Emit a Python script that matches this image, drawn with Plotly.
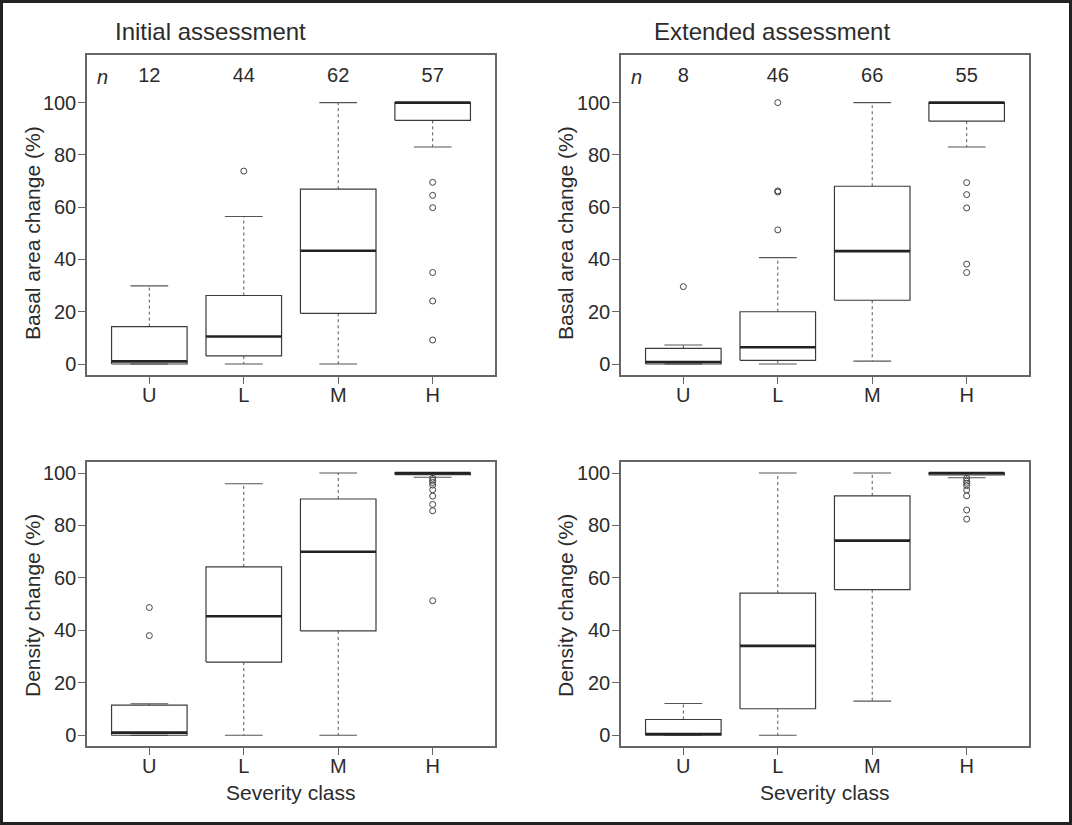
import plotly.graph_objects as go

categories = ["U", "L", "M", "H"]
positions = [1, 2, 3, 4]
n_initial = [12, 44, 62, 57]
n_extended = [8, 46, 66, 55]

# Basal area change (%), initial assessment
ba_init_lower = [0.0, 0.0, 0.0, 83.0]
ba_init_q1 = [0.0, 3.1, 19.4, 93.2]
ba_init_median = [1.0, 10.5, 43.3, 100.0]
ba_init_q3 = [14.3, 26.2, 66.9, 100.0]
ba_init_upper = [29.9, 56.4, 100.0, 100.0]
ba_init_outliers = [[], [73.8], [], [69.5, 64.5, 59.8, 35.0, 24.1, 9.2]]

# Basal area change (%), extended assessment
ba_ext_lower = [0.0, 0.0, 1.1, 83.0]
ba_ext_q1 = [0.0, 1.4, 24.4, 92.9]
ba_ext_median = [0.8, 6.4, 43.2, 100.0]
ba_ext_q3 = [6.0, 20.0, 68.0, 100.0]
ba_ext_upper = [7.3, 40.7, 100.0, 100.0]
ba_ext_outliers = [[29.6], [100.0, 66.2, 65.8, 51.3], [], [69.4, 64.8, 59.7, 38.2, 35.0]]

# Density change (%), initial assessment
den_init_lower = [0.0, 0.0, 0.0, 98.4]
den_init_q1 = [0.0, 27.9, 39.8, 99.4]
den_init_median = [1.0, 45.4, 70.0, 100.0]
den_init_q3 = [11.5, 64.2, 90.1, 100.0]
den_init_upper = [12.0, 95.9, 100.0, 100.0]
den_init_outliers = [[48.7, 38.0], [], [], [98.0, 97.2, 96.4, 95.4, 93.6, 91.2, 88.0, 85.6, 51.3]]

# Density change (%), extended assessment
den_ext_lower = [0.0, 0.0, 13.0, 98.2]
den_ext_q1 = [0.0, 10.1, 55.5, 99.3]
den_ext_median = [0.5, 34.1, 74.2, 100.0]
den_ext_q3 = [6.0, 54.2, 91.3, 100.0]
den_ext_upper = [12.1, 100.0, 100.0, 100.0]
den_ext_outliers = [[], [], [], [98.0, 96.9, 96.1, 95.2, 93.5, 91.3, 85.9, 82.4]]

W, H = 1072, 825
FONT = "Liberation Sans, Arial, sans-serif"
TXT = "#2b2b2b"
BOX_HALF = 0.4
CAP_HALF = 0.2

fig = go.Figure()


def add_panel(k, lower, q1, med, q3, upper, outliers, n=None, ytop=None):
    xa = "x" if k == 1 else f"x{k}"
    ya = "y" if k == 1 else f"y{k}"
    wx, wy, cx, cy, bx, by, mx, my, ox, oy = [], [], [], [], [], [], [], [], [], []
    for p, lo, a, m, b, hi, outs in zip(positions, lower, q1, med, q3, upper, outliers):
        wx += [p, p, None, p, p, None]
        wy += [b, hi, None, a, lo, None]
        cx += [p - CAP_HALF, p + CAP_HALF, None, p - CAP_HALF, p + CAP_HALF, None]
        cy += [hi, hi, None, lo, lo, None]
        bx += [p - BOX_HALF, p + BOX_HALF, p + BOX_HALF, p - BOX_HALF, p - BOX_HALF, None]
        by += [a, a, b, b, a, None]
        mx += [p - BOX_HALF, p + BOX_HALF, None]
        my += [m, m, None]
        ox += [p] * len(outs)
        oy += outs
    common = dict(xaxis=xa, yaxis=ya, hoverinfo="skip", showlegend=False)
    fig.add_trace(go.Scatter(x=wx, y=wy, mode="lines",
                             line=dict(color="#555555", width=1, dash="dot"), **common))
    fig.add_trace(go.Scatter(x=cx, y=cy, mode="lines",
                             line=dict(color="#555555", width=1.1), **common))
    fig.add_trace(go.Scatter(x=bx, y=by, mode="lines",
                             line=dict(color="#3a3a3a", width=1.2), **common))
    fig.add_trace(go.Scatter(x=mx, y=my, mode="lines",
                             line=dict(color="#222222", width=2.6), **common))
    fig.add_trace(go.Scatter(x=ox, y=oy, mode="markers",
                             marker=dict(symbol="circle-open", size=6, color="#444444",
                                         line=dict(width=1)), **common))
    if n is not None:
        fig.add_trace(go.Scatter(x=positions, y=[ytop] * len(n), mode="text",
                                 text=[str(v) for v in n], textposition="middle center",
                                 textfont=dict(family=FONT, size=20, color=TXT), **common))
        fig.add_annotation(x=0.5, y=ytop, xref=xa, yref=ya, text="<i>n</i>",
                           showarrow=False, xanchor="center", yanchor="middle",
                           font=dict(family=FONT, size=20, color=TXT))


add_panel(1, ba_init_lower, ba_init_q1, ba_init_median, ba_init_q3, ba_init_upper,
          ba_init_outliers, n_initial, 109.6)
add_panel(2, ba_ext_lower, ba_ext_q1, ba_ext_median, ba_ext_q3, ba_ext_upper,
          ba_ext_outliers, n_extended, 109.6)
add_panel(3, den_init_lower, den_init_q1, den_init_median, den_init_q3, den_init_upper,
          den_init_outliers)
add_panel(4, den_ext_lower, den_ext_q1, den_ext_median, den_ext_q3, den_ext_upper,
          den_ext_outliers)


def px_x(v):
    return v / W


def px_y(v):
    return 1 - v / H


xdom_left = [px_x(87), px_x(495)]
xdom_right = [px_x(621), px_x(1029)]
ydom_top = [px_y(375), px_y(55)]
ydom_bot = [px_y(746), px_y(462)]

axis_common = dict(showline=True, mirror=True, linecolor="#666666", linewidth=1.5,
                   ticks="outside", ticklen=7, tickwidth=1, tickcolor="#666666",
                   showgrid=False, zeroline=False,
                   tickfont=dict(family=FONT, size=20, color=TXT))

layout = dict(width=W, height=H, margin=dict(l=0, r=0, t=0, b=0),
              paper_bgcolor="white", plot_bgcolor="white",
              font=dict(family=FONT, color=TXT))
for k, (xd, yd, yr) in enumerate([(xdom_left, ydom_top, [-4.2, 118.2]),
                                  (xdom_right, ydom_top, [-4.2, 118.2]),
                                  (xdom_left, ydom_bot, [-4.1, 104.2]),
                                  (xdom_right, ydom_bot, [-4.1, 104.2])], start=1):
    xn = "xaxis" if k == 1 else f"xaxis{k}"
    yn = "yaxis" if k == 1 else f"yaxis{k}"
    ya = "y" if k == 1 else f"y{k}"
    xa = "x" if k == 1 else f"x{k}"
    layout[xn] = dict(domain=xd, range=[0.34, 4.66], anchor=ya,
                      tickvals=positions, ticktext=categories,
                      ticklabelstandoff=-6, **axis_common)
    layout[yn] = dict(domain=yd, range=yr, anchor=xa,
                      tickvals=[0, 20, 40, 60, 80, 100],
                      ticklabelstandoff=-2, **axis_common)
fig.update_layout(**layout)

ann_font_title = dict(family=FONT, size=24, color=TXT)
ann_font_axis = dict(family=FONT, size=21, color=TXT)
fig.add_annotation(x=px_x(210), y=px_y(31), xref="paper", yref="paper",
                   text="Initial assessment", showarrow=False,
                   xanchor="center", yanchor="middle", font=ann_font_title)
fig.add_annotation(x=px_x(772), y=px_y(31), xref="paper", yref="paper",
                   text="Extended assessment", showarrow=False,
                   xanchor="center", yanchor="middle", font=ann_font_title)
for xc, yc, label in [(32, 233, "Basal area change (%)"), (565, 233, "Basal area change (%)"),
                      (32, 606, "Density change (%)"), (565, 606, "Density change (%)")]:
    fig.add_annotation(x=px_x(xc), y=px_y(yc), xref="paper", yref="paper",
                       text=label, textangle=-90, showarrow=False,
                       xanchor="center", yanchor="middle", font=ann_font_axis)
for xc in [291, 825]:
    fig.add_annotation(x=px_x(xc), y=px_y(792), xref="paper", yref="paper",
                       text="Severity class", showarrow=False,
                       xanchor="center", yanchor="middle", font=ann_font_axis)

fig.add_shape(type="rect", xref="paper", yref="paper",
              x0=1.5 / W, x1=1 - 1.5 / W, y0=1.5 / H, y1=1 - 1.5 / H,
              line=dict(color="#222222", width=3))

fig.write_html("out.html", config={"displayModeBar": False},
               post_script="document.body.style.margin='0';document.body.style.overflow='hidden';")
